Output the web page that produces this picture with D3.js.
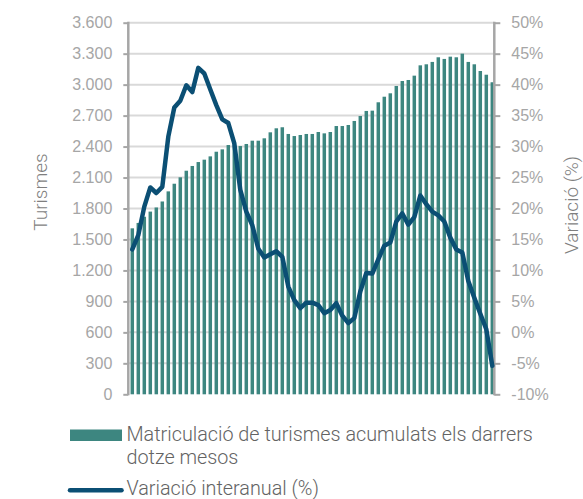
<!DOCTYPE html>
<html>
<head>
<meta charset="utf-8">
<script src="https://cdn.jsdelivr.net/npm/d3@7"></script>
<style>
  body { margin: 0; background: #fff; }
  svg { display: block; font-family: Roboto, "Liberation Sans", sans-serif; }
</style>
</head>
<body>
<svg id="chart" width="583" height="499"></svg>
<script>
// mesos (61 períodes, sense etiquetes a l'eix)
const months = d3.range(61)

// matriculació acumulada darrers 12 mesos
const turismes = [
  1608, 1660, 1720, 1770, 1810, 1868, 1966, 2040, 2102, 2166,
  2212, 2250, 2273, 2305, 2350, 2373, 2415, 2412, 2405, 2425,
  2457, 2457, 2480, 2538, 2577, 2587, 2522, 2502, 2512, 2522,
  2522, 2541, 2528, 2541, 2599, 2599, 2609, 2648, 2696, 2745,
  2748, 2829, 2883, 2916, 2987, 3035, 3045, 3087, 3187, 3197,
  3220, 3265, 3249, 3271, 3265, 3300, 3220, 3197, 3132, 3096,
  3023
]

// variació interanual (%)
const variacio = [
  13.4, 15.7, 20.3, 23.4, 22.5, 23.5, 31.6, 36.3, 37.4, 39.9,
  38.8, 42.7, 41.8, 39.2, 36.7, 34.4, 33.8, 30.5, 23.0, 19.5,
  17.3, 13.5, 12.1, 12.6, 13.1, 12.2, 7.4, 5.2, 3.9, 4.8,
  4.8, 4.4, 3.1, 3.6, 4.7, 2.7, 1.5, 2.3, 6.6, 9.6,
  9.5, 11.8, 14.0, 14.5, 17.9, 19.2, 17.4, 18.6, 22.1, 20.7,
  19.5, 18.9, 17.9, 15.3, 13.4, 12.9, 8.3, 5.6, 3.0, 0.5,
  -5.4
]

const leftTicks = d3.range(0, 3601, 300)
const rightTicks = d3.range(-10, 51, 5)

const legendBars = ['Matriculació de turismes acumulats els darrers', 'dotze mesos']
const legendLine = 'Variació interanual (%)'

const plot = { left: 128.3, right: 494.3, top: 22.7, bottom: 394.3 }
const barColor = '#3d8680'
const lineColor = '#0b4f74'
const axisColor = '#a6a6a6'
const gridColor = '#d9d9d9'
const tickText = '#a6a6a6'
const labelText = '#7f7f7f'
const legendText = '#636363'

const svg = d3.select('#chart')

const x = d3.scaleBand()
  .domain(months)
  .range([plot.left + 1, plot.right + 1])
  .paddingInner(0.42)
  .paddingOuter(0.21)

const yL = d3.scaleLinear().domain([0, 3600]).range([plot.bottom, plot.top])
const yR = d3.scaleLinear().domain([-10, 50]).range([plot.bottom, plot.top])

const fmt = d3.formatLocale({ decimal: ',', thousands: '.', grouping: [3], currency: ['', '€'] }).format(',d')

// gridlines
svg.append('g')
  .selectAll('line')
  .data(leftTicks.slice(1))
  .join('line')
  .attr('x1', plot.left)
  .attr('x2', plot.right)
  .attr('y1', d => yL(d))
  .attr('y2', d => yL(d))
  .attr('stroke', gridColor)
  .attr('stroke-width', 2)

// barres
svg.append('g')
  .selectAll('rect')
  .data(turismes)
  .join('rect')
  .attr('x', (d, i) => x(months[i]))
  .attr('width', x.bandwidth())
  .attr('y', d => yL(d))
  .attr('height', d => yL(0) - yL(d))
  .attr('fill', barColor)

// eixos
const leftAxis = svg.append('g')
  .attr('transform', `translate(${plot.left},0)`)
  .call(d3.axisLeft(yL).tickValues(leftTicks).tickFormat(fmt).tickSize(5).tickPadding(11))
const rightAxis = svg.append('g')
  .attr('transform', `translate(${plot.right},0)`)
  .call(d3.axisRight(yR).tickValues(rightTicks).tickFormat(d => d + '%').tickSize(6).tickPadding(11))

;[leftAxis, rightAxis].forEach(a => {
  a.select('.domain').remove()
  a.selectAll('.tick line').attr('stroke', axisColor).attr('stroke-width', 2)
  a.selectAll('.tick text')
    .attr('fill', tickText)
    .style('font-size', '16px')
    .style('font-weight', 300)
  a.append('line')
    .attr('y1', plot.top - 1)
    .attr('y2', plot.bottom + 1)
    .attr('stroke', axisColor)
    .attr('stroke-width', 2.5)
})

// línia de variació
const line = d3.line()
  .x((d, i) => x(months[i]) + x.bandwidth() / 2)
  .y(d => yR(d))

svg.append('path')
  .datum(variacio)
  .attr('d', line)
  .attr('fill', 'none')
  .attr('stroke', lineColor)
  .attr('stroke-width', 4.5)
  .attr('stroke-linejoin', 'round')
  .attr('stroke-linecap', 'round')

// títols d'eix
svg.append('text')
  .attr('transform', 'translate(47,192) rotate(-90)')
  .attr('text-anchor', 'middle')
  .attr('fill', labelText)
  .style('font-size', '19px')
  .style('font-weight', 300)
  .text('Turismes')

svg.append('text')
  .attr('transform', 'translate(578,205) rotate(-90)')
  .attr('text-anchor', 'middle')
  .attr('fill', labelText)
  .style('font-size', '19px')
  .style('font-weight', 300)
  .text('Variació (%)')

// llegenda
const legend = svg.append('g')
legend.append('rect')
  .attr('x', 70).attr('y', 429.5)
  .attr('width', 52).attr('height', 11.5)
  .attr('fill', barColor)
const lt = legend.append('text')
  .attr('fill', legendText)
  .style('font-size', '19.8px')
  .style('font-weight', 300)
lt.selectAll('tspan')
  .data(legendBars)
  .join('tspan')
  .attr('x', 126.5)
  .attr('y', (d, i) => 440.7 + i * 23.6)
  .text(d => d)

legend.append('line')
  .attr('x1', 70).attr('x2', 121.5)
  .attr('y1', 490.2).attr('y2', 490.2)
  .attr('stroke', lineColor)
  .attr('stroke-width', 4.5)
  .attr('stroke-linecap', 'round')
legend.append('text')
  .attr('x', 126.5)
  .attr('y', 495)
  .attr('fill', legendText)
  .style('font-size', '19.8px')
  .style('font-weight', 300)
  .text(legendLine)
</script>
</body>
</html>
